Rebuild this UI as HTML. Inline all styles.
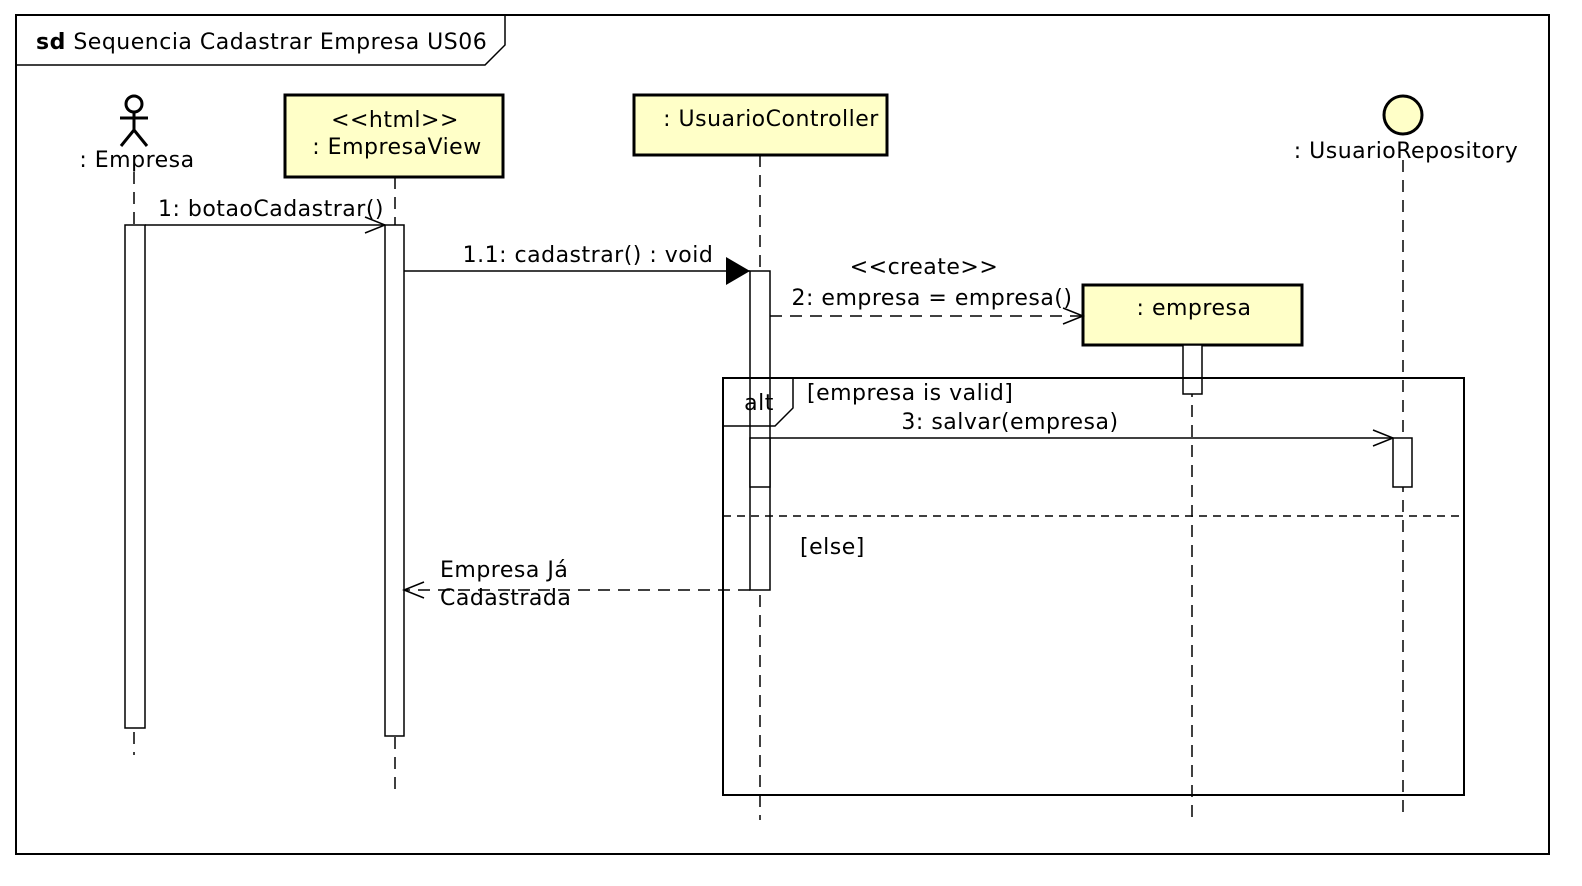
<!DOCTYPE html>
<html><head><meta charset="utf-8"><style>
html,body{margin:0;padding:0;background:#fff;}
svg{display:block;}
text{font-family:"DejaVu Sans","Liberation Sans",sans-serif;font-size:22px;letter-spacing:0.5px;fill:#000;}
</style></head><body>
<svg width="1582" height="886" viewBox="0 0 1582 886" xmlns="http://www.w3.org/2000/svg">
<defs>
<marker id="open" markerWidth="24" markerHeight="20" refX="22" refY="10" orient="auto" markerUnits="userSpaceOnUse">
<path d="M2,2 L22,10 L2,18" fill="none" stroke="#000" stroke-width="1.5"/></marker>
<marker id="fill" markerWidth="26" markerHeight="28" refX="24" refY="14" orient="auto" markerUnits="userSpaceOnUse">
<path d="M0,0 L24,14 L0,28 Z" fill="#000"/></marker>
</defs>
<rect x="16" y="15" width="1533" height="839" fill="none" stroke="#000" stroke-width="2"/>
<polyline points="16,65 485,65 505,45 505,15" fill="none" stroke="#000" stroke-width="1.5"/>
<text x="36" y="49"><tspan font-weight="bold">sd</tspan> Sequencia Cadastrar Empresa US06</text>

<g stroke="#000" stroke-width="1.5" stroke-dasharray="12,8" fill="none">
<line x1="134" y1="172" x2="134" y2="755"/>
<line x1="395" y1="177" x2="395" y2="790"/>
<line x1="760" y1="155" x2="760" y2="820"/>
<line x1="1192" y1="345" x2="1192" y2="825"/>
<line x1="1403" y1="160" x2="1403" y2="820"/>
</g>

<g stroke="#000" stroke-width="3" fill="none">
<circle cx="134" cy="104" r="8"/>
<line x1="134" y1="112" x2="134" y2="130"/>
<line x1="120" y1="118" x2="148" y2="118"/>
<line x1="134" y1="130" x2="121" y2="146"/>
<line x1="134" y1="130" x2="147" y2="146"/>
</g>
<text x="137" y="167" text-anchor="middle">: Empresa</text>

<rect x="285" y="95" width="218" height="82" fill="#ffffc8" stroke="#000" stroke-width="3"/>
<text x="395" y="127" text-anchor="middle">&lt;&lt;html&gt;&gt;</text>
<text x="397" y="154" text-anchor="middle">: EmpresaView</text>
<rect x="634" y="95" width="253" height="60" fill="#ffffc8" stroke="#000" stroke-width="3"/>
<text x="771" y="126" text-anchor="middle">: UsuarioController</text>
<rect x="1083" y="285" width="219" height="60" fill="#ffffc8" stroke="#000" stroke-width="3"/>
<text x="1194" y="315" text-anchor="middle">: empresa</text>
<circle cx="1403" cy="115" r="19" fill="#ffffc8" stroke="#000" stroke-width="3"/>
<text x="1406" y="158" text-anchor="middle">: UsuarioRepository</text>

<g fill="#fff" stroke="#000" stroke-width="1.5">
<rect x="125" y="225" width="20" height="503"/>
<rect x="385" y="225" width="19" height="511"/>
<rect x="750" y="271" width="20" height="319"/>
<rect x="750" y="438" width="20" height="49"/>
<rect x="1183" y="345" width="19" height="49"/>
<rect x="1393" y="438" width="19" height="49"/>
</g>

<rect x="723" y="378" width="741" height="417" fill="none" stroke="#000" stroke-width="2"/>
<polyline points="723,426 775,426 793,408 793,378" fill="none" stroke="#000" stroke-width="1.5"/>
<text x="759" y="410" text-anchor="middle">alt</text>
<text x="807" y="400">[empresa is valid]</text>
<line x1="723" y1="516" x2="1464" y2="516" stroke="#000" stroke-width="1.5" stroke-dasharray="8,6"/>
<text x="800" y="554">[else]</text>

<g stroke="#000" stroke-width="1.5" fill="none">
<line x1="145" y1="225" x2="385" y2="225" marker-end="url(#open)"/>
<line x1="404" y1="271" x2="750" y2="271" marker-end="url(#fill)"/>
<line x1="770" y1="316" x2="1083" y2="316" stroke-dasharray="12,8" marker-end="url(#open)"/>
<line x1="770" y1="438" x2="1393" y2="438" marker-end="url(#open)"/>
<line x1="750" y1="590" x2="404" y2="590" stroke-dasharray="12,8" marker-end="url(#open)"/>
</g>
<text x="271" y="216" text-anchor="middle">1: botaoCadastrar()</text>
<text x="588" y="262" text-anchor="middle">1.1: cadastrar() : void</text>
<text x="924" y="274" text-anchor="middle">&lt;&lt;create&gt;&gt;</text>
<text x="932" y="305" text-anchor="middle">2: empresa = empresa()</text>
<text x="1010" y="429" text-anchor="middle">3: salvar(empresa)</text>
<text x="440" y="577">Empresa Já</text>
<text x="440" y="605">Cadastrada</text>
</svg>
</body></html>
